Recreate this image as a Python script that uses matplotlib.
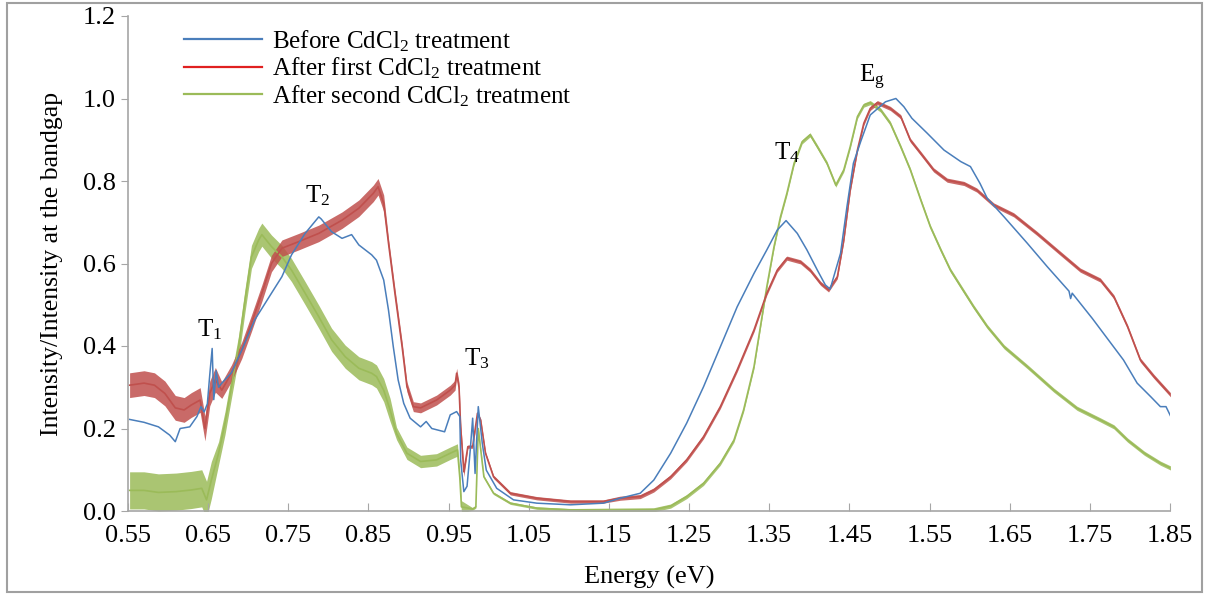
import numpy as np
import matplotlib
matplotlib.use("Agg")
import matplotlib.pyplot as plt
from matplotlib.lines import Line2D
from matplotlib.patches import Rectangle

plt.rcParams['font.family'] = ['Liberation Serif', 'DejaVu Serif']
plt.rcParams['mathtext.fontset'] = 'custom'
plt.rcParams['mathtext.rm'] = 'Liberation Serif'
plt.rcParams['mathtext.it'] = 'Liberation Serif'
plt.rcParams['mathtext.bf'] = 'Liberation Serif'

# --- datos ---
blue_e = [0.552, 0.570, 0.588, 0.602, 0.609, 0.615, 0.627, 0.636, 0.641, 0.645, 0.649, 0.652, 0.655,
          0.657, 0.660, 0.663, 0.667, 0.679, 0.692, 0.708, 0.729, 0.742, 0.754, 0.771, 0.788, 0.791,
          0.804, 0.817, 0.829, 0.838, 0.854, 0.860, 0.869, 0.875, 0.881, 0.887, 0.894, 0.902, 0.915,
          0.922, 0.929, 0.945, 0.952, 0.960, 0.964, 0.965, 0.969, 0.973, 0.977, 0.980, 0.983, 0.987,
          0.992, 0.997, 1.010, 1.031, 1.060, 1.102, 1.143, 1.164, 1.189, 1.206, 1.227, 1.247, 1.268,
          1.289, 1.310, 1.331, 1.347, 1.360, 1.371, 1.385, 1.397, 1.410, 1.420, 1.426, 1.439, 1.447,
          1.455, 1.464, 1.476, 1.495, 1.508, 1.518, 1.528, 1.547, 1.568, 1.589, 1.601, 1.613, 1.622,
          1.643, 1.672, 1.697, 1.724, 1.726, 1.728, 1.753, 1.775, 1.792, 1.809, 1.826, 1.838, 1.845, 1.851]
blue_i = [0.222, 0.215, 0.204, 0.184, 0.168, 0.200, 0.204, 0.229, 0.253, 0.240, 0.260, 0.330, 0.394,
          0.270, 0.340, 0.300, 0.310, 0.335, 0.390, 0.463, 0.528, 0.568, 0.621, 0.673, 0.713, 0.708,
          0.677, 0.661, 0.670, 0.645, 0.621, 0.608, 0.560, 0.487, 0.398, 0.318, 0.261, 0.225, 0.204,
          0.217, 0.200, 0.192, 0.233, 0.241, 0.229, 0.124, 0.047, 0.060, 0.148, 0.225, 0.091, 0.253,
          0.164, 0.099, 0.055, 0.027, 0.019, 0.015, 0.019, 0.031, 0.043, 0.075, 0.140, 0.213, 0.301,
          0.398, 0.495, 0.576, 0.633, 0.681, 0.704, 0.673, 0.633, 0.584, 0.548, 0.538, 0.625, 0.738,
          0.843, 0.895, 0.960, 0.992, 1.000, 0.980, 0.952, 0.916, 0.875, 0.847, 0.835, 0.794, 0.758,
          0.713, 0.649, 0.592, 0.533, 0.515, 0.528, 0.467, 0.410, 0.366, 0.310, 0.277, 0.253, 0.253, 0.229]

red_e = [0.552, 0.570, 0.583, 0.596, 0.609, 0.620, 0.629, 0.640, 0.646, 0.652, 0.659, 0.667, 0.679,
         0.692, 0.704, 0.717, 0.729, 0.742, 0.763, 0.788, 0.817, 0.838, 0.856, 0.862, 0.869, 0.875,
         0.883, 0.892, 0.898, 0.906, 0.915, 0.935, 0.952, 0.958, 0.960, 0.963, 0.965, 0.969, 0.974,
         0.980, 0.986, 0.990, 0.996, 1.006, 1.027, 1.060, 1.102, 1.143, 1.164, 1.189, 1.206, 1.227,
         1.247, 1.268, 1.289, 1.310, 1.331, 1.347, 1.360, 1.372, 1.389, 1.401, 1.414, 1.424, 1.435,
         1.443, 1.451, 1.460, 1.468, 1.476, 1.485, 1.501, 1.514, 1.526, 1.539, 1.555, 1.572, 1.593,
         1.609, 1.630, 1.655, 1.684, 1.713, 1.738, 1.763, 1.780, 1.797, 1.813, 1.830, 1.851]
red_i = [0.305, 0.310, 0.305, 0.285, 0.250, 0.245, 0.257, 0.269, 0.200, 0.285, 0.318, 0.293, 0.334,
         0.390, 0.455, 0.528, 0.600, 0.637, 0.653, 0.673, 0.705, 0.734, 0.770, 0.786, 0.746, 0.649,
         0.528, 0.398, 0.301, 0.253, 0.250, 0.269, 0.293, 0.305, 0.334, 0.300, 0.204, 0.095, 0.156,
         0.156, 0.237, 0.220, 0.140, 0.083, 0.043, 0.031, 0.023, 0.023, 0.031, 0.035, 0.051, 0.083,
         0.124, 0.180, 0.253, 0.342, 0.439, 0.528, 0.584, 0.613, 0.604, 0.584, 0.552, 0.536, 0.568,
         0.657, 0.778, 0.875, 0.940, 0.976, 0.990, 0.976, 0.956, 0.899, 0.867, 0.827, 0.802, 0.794,
         0.778, 0.742, 0.718, 0.673, 0.625, 0.584, 0.560, 0.519, 0.447, 0.366, 0.326, 0.281]

green_e = [0.552, 0.570, 0.588, 0.610, 0.629, 0.642, 0.648, 0.654, 0.663, 0.671, 0.679, 0.688, 0.696,
           0.704, 0.713, 0.717, 0.729, 0.742, 0.754, 0.771, 0.788, 0.804, 0.821, 0.838, 0.854, 0.860,
           0.869, 0.877, 0.885, 0.898, 0.915, 0.935, 0.952, 0.961, 0.964, 0.966, 0.980, 0.984, 0.987,
           0.990, 0.994, 1.006, 1.027, 1.060, 1.100, 1.150, 1.206, 1.227, 1.247, 1.268, 1.289, 1.306,
           1.318, 1.331, 1.339, 1.347, 1.356, 1.364, 1.372, 1.381, 1.391, 1.401, 1.410, 1.422, 1.433,
           1.443, 1.451, 1.460, 1.468, 1.476, 1.489, 1.501, 1.514, 1.526, 1.539, 1.551, 1.564, 1.576,
           1.589, 1.605, 1.622, 1.643, 1.672, 1.705, 1.734, 1.763, 1.780, 1.797, 1.818, 1.838, 1.851]
green_i = [0.050, 0.050, 0.045, 0.047, 0.051, 0.055, 0.027, 0.075, 0.140, 0.213, 0.301, 0.398, 0.511,
           0.616, 0.657, 0.670, 0.641, 0.616, 0.584, 0.528, 0.471, 0.415, 0.374, 0.346, 0.334, 0.326,
           0.293, 0.245, 0.188, 0.140, 0.120, 0.124, 0.140, 0.148, 0.080, 0.010, 0.005, 0.010, 0.200,
           0.150, 0.083, 0.043, 0.019, 0.007, 0.003, 0.002, 0.003, 0.012, 0.035, 0.067, 0.116, 0.172,
           0.245, 0.350, 0.447, 0.544, 0.641, 0.713, 0.770, 0.843, 0.895, 0.912, 0.883, 0.843, 0.790,
           0.827, 0.883, 0.956, 0.984, 0.990, 0.972, 0.940, 0.883, 0.827, 0.754, 0.689, 0.633, 0.584,
           0.544, 0.495, 0.447, 0.398, 0.350, 0.293, 0.249, 0.221, 0.204, 0.172, 0.140, 0.116, 0.104]

# ancho del ruido (semi-amplitud) por tramos de energia
red_noise_edges = [0.55, 0.667, 0.875, 0.97, 1.15, 1.86]
red_noise = [0.030, 0.020, 0.012, 0.004, 0.005]
green_noise_edges = [0.55, 0.655, 0.88, 0.97, 1.15, 1.86]
green_noise = [0.045, 0.028, 0.015, 0.003, 0.005]

labels = ['Before CdCl$_2$ treatment', 'After first CdCl$_2$ treatment', 'After second CdCl$_2$ treatment']
peaks = ['T$_1$', 'T$_2$', 'T$_3$', 'T$_4$', 'E$_{\\mathrm{g}}$']
peak_e = [0.652, 0.787, 0.985, 1.372, 1.478]
peak_i = [0.440, 0.765, 0.370, 0.868, 1.050]

x_ticks = [0.55, 0.65, 0.75, 0.85, 0.95, 1.05, 1.15, 1.25, 1.35, 1.45, 1.55, 1.65, 1.75, 1.85]
y_ticks = [0.0, 0.2, 0.4, 0.6, 0.8, 1.0, 1.2]

BLUE = '#4a7ebb'
RED = '#c0504d'
GREEN = '#9bbb59'


def band(e, i, edges, levels):
    e = np.asarray(e)
    i = np.asarray(i)
    idx = np.clip(np.searchsorted(edges, e, side='right') - 1, 0, len(levels) - 1)
    n = np.asarray(levels)[idx]
    return i - n, i + n


fig = plt.figure(figsize=(12.07, 5.99), dpi=100)
ax = fig.add_axes([128 / 1207, 1 - 511 / 599, (1170 - 128) / 1207, (511 - 16) / 599])

lo, hi = band(green_e, green_i, green_noise_edges, green_noise)
ax.fill_between(green_e, lo, hi, color=GREEN, lw=0, alpha=0.85)
ax.plot(green_e, green_i, color=GREEN, lw=1.2)

lo, hi = band(red_e, red_i, red_noise_edges, red_noise)
ax.fill_between(red_e, lo, hi, color=RED, lw=0, alpha=0.85)
ax.plot(red_e, red_i, color=RED, lw=1.2)

ax.plot(blue_e, blue_i, color=BLUE, lw=1.1)

ax.set_xlim(0.55, 1.85)
ax.set_ylim(0, 1.2)
ax.set_xticks(x_ticks)
ax.set_xticklabels([f'{t:.2f}' for t in x_ticks])
ax.set_yticks(y_ticks)
ax.set_yticklabels([f'{t:.1f}' for t in y_ticks])
ax.tick_params(axis='x', direction='in', length=6, color='#a6a6a6', labelsize=19, pad=10)
ax.tick_params(axis='y', direction='out', length=5, color='#a6a6a6', labelsize=19, pad=4)
for s in ['top', 'right']:
    ax.spines[s].set_visible(False)
for s in ['left', 'bottom']:
    ax.spines[s].set_color('#a6a6a6')
    ax.spines[s].set_linewidth(1.2)

ax.set_xlabel('Energy (eV)', fontsize=19, labelpad=14)
ax.set_ylabel('Intensity/Intensity at the bandgap', fontsize=18.5, labelpad=14)

for txt, e, v in zip(peaks, peak_e, peak_i):
    ax.text(e, v, txt, fontsize=18, ha='center', va='center')

handles = [Line2D([], [], color=BLUE, lw=1.6),
           Line2D([], [], color='#e02020', lw=1.6),
           Line2D([], [], color=GREEN, lw=1.6)]
ax.legend(handles, labels, loc='upper left', bbox_to_anchor=(184 / 1207, 1 - 28 / 599),
          bbox_transform=fig.transFigure, frameon=False, fontsize=18, handlelength=3.1,
          handletextpad=0.4, labelspacing=0.08, borderpad=0, borderaxespad=0)

fig.patches.append(Rectangle((7 / 1207, 7 / 599), 1195 / 1207, 589 / 599, transform=fig.transFigure,
                             fill=False, edgecolor='#a0a0a0', lw=1.5))

plt.savefig('out.png', dpi=100)
plt.close()
